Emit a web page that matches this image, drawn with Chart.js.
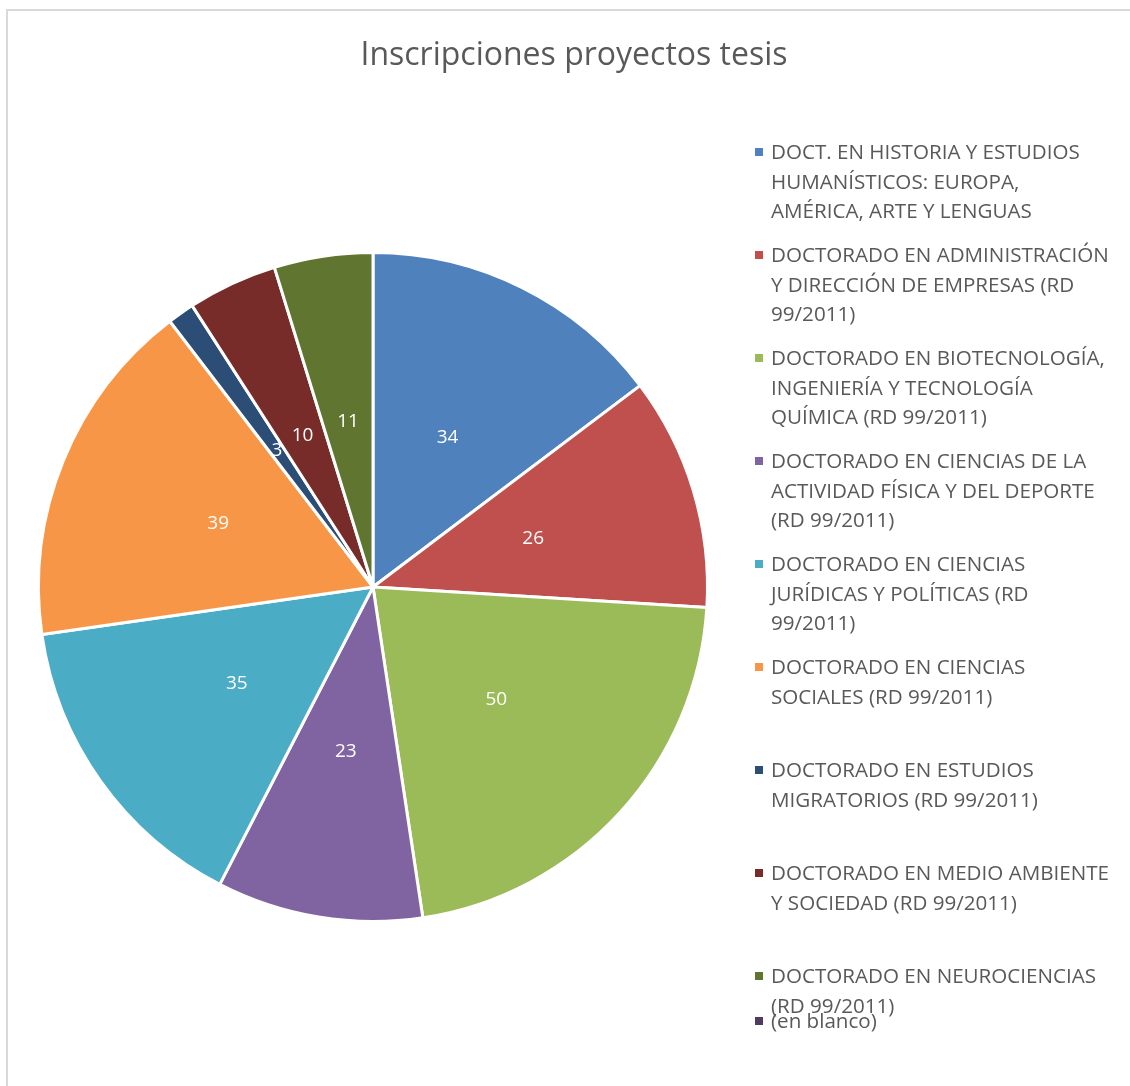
<!DOCTYPE html>
<html lang="es">
<head>
<meta charset="UTF-8">
<title>Inscripciones proyectos tesis</title>
<script src="https://cdn.jsdelivr.net/npm/chart.js"></script>
<style>
  html, body { margin: 0; padding: 0; background: #fff; }
  body { width: 1130px; height: 1086px; position: relative; overflow: hidden; font-family: "Open Sans", sans-serif; }
  #frame { position: absolute; left: 6px; top: 9px; width: 1140px; height: 1100px; border: 2px solid #d9d9d9; box-sizing: border-box; }
  #chart { position: absolute; left: 0; top: 0; }
  #title { position: absolute; left: 0; width: 1148px; top: 31px; text-align: center; font-size: 32px; color: #595959; }
  #legend .item { position: absolute; left: 771px; font-size: 20.6px; line-height: 29.5px; color: #595959; white-space: nowrap; }
  #legend .sw { position: absolute; left: -16px; top: 11px; width: 8px; height: 8px; }
</style>
</head>
<body>
<div id="frame"></div>
<canvas id="chart" width="1130" height="1086"></canvas>
<div id="title">Inscripciones proyectos tesis</div>
<div id="legend"></div>

<script>
// categories (legend lines as shown)
const programas = [
    ['DOCT. EN HISTORIA Y ESTUDIOS', 'HUMANÍSTICOS: EUROPA,', 'AMÉRICA, ARTE Y LENGUAS'],
    ['DOCTORADO EN ADMINISTRACIÓN', 'Y DIRECCIÓN DE EMPRESAS (RD', '99/2011)'],
    ['DOCTORADO EN BIOTECNOLOGÍA,', 'INGENIERÍA Y TECNOLOGÍA', 'QUÍMICA (RD 99/2011)'],
    ['DOCTORADO EN CIENCIAS DE LA', 'ACTIVIDAD FÍSICA Y DEL DEPORTE', '(RD 99/2011)'],
    ['DOCTORADO EN CIENCIAS', 'JURÍDICAS Y POLÍTICAS (RD', '99/2011)'],
    ['DOCTORADO EN CIENCIAS', 'SOCIALES (RD 99/2011)'],
    ['DOCTORADO EN ESTUDIOS', 'MIGRATORIOS (RD 99/2011)'],
    ['DOCTORADO EN MEDIO AMBIENTE', 'Y SOCIEDAD (RD 99/2011)'],
    ['DOCTORADO EN NEUROCIENCIAS', '(RD 99/2011)'],
    ['(en blanco)']
];
const inscripciones = [34, 26, 50, 23, 35, 39, 3, 10, 11, 0];
const colores = ['#4F81BD', '#C0504D', '#9BBB59', '#8064A2', '#4BACC6', '#F79646', '#2C4D75', '#772C2A', '#5F7530', '#4D3B62'];

// legend rows (Excel spaces them evenly; last one squeezed in)
const legendTops = [137, 240, 343, 446, 549, 652, 755, 858, 961, 1006];

const legend = document.getElementById('legend');
programas.forEach((lines, i) => {
    const d = document.createElement('div');
    d.className = 'item';
    d.style.top = legendTops[i] + 'px';
    d.innerHTML = '<span class="sw" style="background:' + colores[i] + '"></span>' + lines.join('<br>');
    legend.appendChild(d);
});

// white value labels in the middle of each slice
const valueLabels = {
    id: 'valueLabels',
    afterDatasetsDraw(chart) {
        const ctx = chart.ctx;
        const meta = chart.getDatasetMeta(0);
        ctx.save();
        ctx.font = '19px "Open Sans"';
        ctx.fillStyle = '#ffffff';
        ctx.textAlign = 'center';
        ctx.textBaseline = 'middle';
        meta.data.forEach((arc, i) => {
            const v = inscripciones[i];
            if (!v) return;
            const p = arc.tooltipPosition();
            ctx.fillText(String(v), p.x, p.y);
        });
        ctx.restore();
    }
};

new Chart(document.getElementById('chart'), {
    type: 'pie',
    data: {
        labels: programas.map(l => l.join(' ')),
        datasets: [{
            data: inscripciones,
            backgroundColor: colores,
            borderColor: '#ffffff',
            borderWidth: 3
        }]
    },
    options: {
        responsive: false,
        animation: false,
        layout: { padding: { left: 37, top: 251, right: 421, bottom: 163 } },
        plugins: {
            legend: { display: false },
            tooltip: { enabled: false }
        }
    },
    plugins: [valueLabels]
});
</script>
</body>
</html>
